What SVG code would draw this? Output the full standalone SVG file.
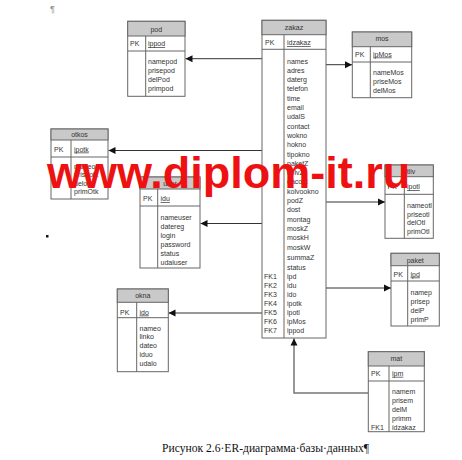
<svg xmlns="http://www.w3.org/2000/svg" width="462" height="460" viewBox="0 0 462 460">
<style>
.bx{fill:#fff;stroke:#666;stroke-width:1}
.hd{fill:#c9c9c9;stroke:#666;stroke-width:1}
.ln{stroke:#666;stroke-width:1;fill:none}
text{font-family:"Liberation Sans",Arial,sans-serif;font-size:7px;fill:#333}
.t{text-anchor:middle}
.u{text-decoration:underline}
.c{stroke:#333;stroke-width:1;fill:none}
.wm{font-family:"Liberation Sans",Arial,sans-serif;font-weight:bold;font-size:45px;fill:#ee1111}
.cap{font-family:"Liberation Serif","Times New Roman",serif;font-size:11.6px;fill:#111}
</style>
<defs>
<marker id="ah" markerWidth="8" markerHeight="8" refX="7" refY="4" orient="auto" markerUnits="userSpaceOnUse">
<path d="M0,0.5 L7,4 L0,7.5 Z" fill="#111"/>
</marker>
</defs>
<rect width="462" height="460" fill="#fff"/>
<text x="50" y="12" style="font-size:9px;fill:#888">¶</text>
<rect x="46" y="235" width="2.5" height="2.5" fill="#111"/>

<g id="connectors">
<path class="c" d="M262,58.7 H185.5" marker-end="url(#ah)"/>
<path class="c" d="M326,64.7 H352" marker-end="url(#ah)"/>
<path class="c" d="M262,150.5 H108.5" marker-end="url(#ah)"/>
<path class="c" d="M262,223.5 H200.5" marker-end="url(#ah)"/>
<path class="c" d="M326,202 H385" marker-end="url(#ah)"/>
<path class="c" d="M262,313 H168.5" marker-end="url(#ah)"/>
<path class="c" d="M326,288 H391" marker-end="url(#ah)"/>
<path d="M368,393 H294 V338.5" style="stroke:#777;stroke-width:1.5;fill:none" marker-end="url(#ah)"/>
</g>

<g id="pod">
<rect class="bx" x="127.7" y="21.3" width="57.3" height="75"/>
<rect class="hd" x="127.7" y="21.3" width="57.3" height="14.7"/>
<line class="ln" x1="127.7" y1="51" x2="185" y2="51"/>
<line class="ln" x1="145.7" y1="36" x2="145.7" y2="96.3"/>
<text class="t" x="156.3" y="31.5">pod</text>
<text x="130" y="46">PK</text>
<text class="u" x="148" y="46">ippod</text>
<text x="148" y="64">namepod</text>
<text x="148" y="73">prisepod</text>
<text x="148" y="82">delPod</text>
<text x="148" y="91">primpod</text>
</g>

<g id="zakaz">
<rect class="bx" x="262" y="20.3" width="64" height="317.7"/>
<rect class="hd" x="262" y="20.3" width="64" height="14.4"/>
<line class="ln" x1="262" y1="49.3" x2="326" y2="49.3"/>
<line class="ln" x1="284" y1="34.7" x2="284" y2="338"/>
<text class="t" x="294" y="30.2">zakaz</text>
<text x="265" y="45.2">PK</text>
<text class="u" x="287" y="45.2">idzakaz</text>
<text x="287" y="63.5">names</text>
<text x="287" y="72.8">adres</text>
<text x="287" y="82.1">daterg</text>
<text x="287" y="91.4">telefon</text>
<text x="287" y="100.7">time</text>
<text x="287" y="110">email</text>
<text x="287" y="119.3">udalS</text>
<text x="287" y="128.6">contact</text>
<text x="287" y="137.9">wokno</text>
<text x="287" y="147.2">hokno</text>
<text x="287" y="156.5">tipokno</text>
<text x="287" y="165.8">paketZ</text>
<text x="287" y="175.1">colvZ</text>
<text x="287" y="184.4">dacost</text>
<text x="287" y="193.7">kolvookno</text>
<text x="287" y="203">podZ</text>
<text x="287" y="212.3">dost</text>
<text x="287" y="221.6">montag</text>
<text x="287" y="230.9">moskZ</text>
<text x="287" y="240.2">moskH</text>
<text x="287" y="249.5">moskW</text>
<text x="287" y="259.8">summaZ</text>
<text x="287" y="269.8">status</text>
<text x="287" y="279">ipd</text>
<text x="287" y="288">idu</text>
<text x="287" y="297">ido</text>
<text x="287" y="306">ipotk</text>
<text x="287" y="314.5">ipotl</text>
<text x="287" y="323.5">ipMos</text>
<text x="287" y="332.5">ippod</text>
<text x="264" y="279">FK1</text>
<text x="264" y="288">FK2</text>
<text x="264" y="297">FK3</text>
<text x="264" y="306">FK4</text>
<text x="264" y="314.5">FK5</text>
<text x="264" y="323.5">FK6</text>
<text x="264" y="332.5">FK7</text>
</g>

<g id="mos">
<rect class="bx" x="352.3" y="32" width="59.4" height="65.7"/>
<rect class="hd" x="352.3" y="32" width="59.4" height="14.7"/>
<line class="ln" x1="352.3" y1="62" x2="411.7" y2="62"/>
<line class="ln" x1="370.3" y1="46.7" x2="370.3" y2="97.7"/>
<text class="t" x="382" y="41.2">mos</text>
<text x="355" y="56.5">PK</text>
<text class="u" x="373" y="56.5">ipMos</text>
<text x="373" y="75">nameMos</text>
<text x="373" y="84">priseMos</text>
<text x="373" y="93">delMos</text>
</g>

<g id="otkos">
<rect class="bx" x="51" y="129" width="57" height="70"/>
<rect class="hd" x="51" y="129" width="57" height="11"/>
<line class="ln" x1="51" y1="157" x2="108" y2="157"/>
<line class="ln" x1="71" y1="140" x2="71" y2="199"/>
<text class="t" x="79.5" y="137">otkos</text>
<text x="54" y="151.5">PK</text>
<text class="u" x="74" y="151.5">ipotk</text>
<text x="74" y="169">nameotk</text>
<text x="74" y="177">priseotk</text>
<text x="74" y="185.5">delotk</text>
<text x="74" y="193.5">primOtk</text>
</g>

<g id="user">
<rect class="bx" x="140" y="177" width="60" height="91"/>
<rect class="hd" x="140" y="177" width="60" height="12"/>
<line class="ln" x1="140" y1="206" x2="200" y2="206"/>
<line class="ln" x1="157.7" y1="189" x2="157.7" y2="268"/>
<text class="t" x="170" y="185.5">user</text>
<text x="143" y="201.2">PK</text>
<text class="u" x="160.5" y="201.2">idu</text>
<text x="160.5" y="219.5">nameuser</text>
<text x="160.5" y="228.5">datereg</text>
<text x="160.5" y="237.5">login</text>
<text x="160.5" y="246.5">password</text>
<text x="160.5" y="255.5">status</text>
<text x="160.5" y="264.5">udaluser</text>
</g>

<g id="okna">
<rect class="bx" x="117.3" y="289" width="51" height="82.7"/>
<rect class="hd" x="117.3" y="289" width="51" height="13.3"/>
<line class="ln" x1="117.3" y1="317.7" x2="168.3" y2="317.7"/>
<line class="ln" x1="136.7" y1="302.3" x2="136.7" y2="371.7"/>
<text class="t" x="142.8" y="298">okna</text>
<text x="120" y="314.5">PK</text>
<text class="u" x="139.5" y="314.5">ido</text>
<text x="139.5" y="330.8">nameo</text>
<text x="139.5" y="339.4">linko</text>
<text x="139.5" y="348.3">dateo</text>
<text x="139.5" y="356.7">iduo</text>
<text x="139.5" y="365.8">udalo</text>
</g>

<g id="otliv">
<rect class="bx" x="385" y="165" width="48.3" height="73.3"/>
<rect class="hd" x="385" y="165" width="48.3" height="11.7"/>
<line class="ln" x1="385" y1="194.3" x2="433.3" y2="194.3"/>
<line class="ln" x1="404.3" y1="176.7" x2="404.3" y2="238.3"/>
<text class="t" x="409" y="173.5">otliv</text>
<text x="387.5" y="189">PK</text>
<text class="u" x="407" y="189">ipotl</text>
<text x="407" y="207.5">nameotl</text>
<text x="407" y="216.5">priseotl</text>
<text x="407" y="225">delOtl</text>
<text x="407" y="234">primOtl</text>
</g>

<g id="paket">
<rect class="bx" x="391" y="253.3" width="48.3" height="72.7"/>
<rect class="hd" x="391" y="253.3" width="48.3" height="12.4"/>
<line class="ln" x1="391" y1="281" x2="439.3" y2="281"/>
<line class="ln" x1="407.7" y1="265.7" x2="407.7" y2="326"/>
<text class="t" x="415.2" y="262.5">paket</text>
<text x="393.5" y="276.5">PK</text>
<text class="u" x="410.5" y="276.5">ipd</text>
<text x="410.5" y="294.8">namep</text>
<text x="410.5" y="303.5">prisep</text>
<text x="410.5" y="312.5">delP</text>
<text x="410.5" y="321.5">primP</text>
</g>

<g id="mat">
<rect class="bx" x="368.3" y="351.7" width="56" height="80"/>
<rect class="hd" x="368.3" y="351.7" width="56" height="14.3"/>
<line class="ln" x1="368.3" y1="381" x2="424.3" y2="381"/>
<line class="ln" x1="389" y1="366" x2="389" y2="431.7"/>
<text class="t" x="396.3" y="361.2">mat</text>
<text x="371" y="375.8">PK</text>
<text class="u" x="392" y="375.8">ipm</text>
<text x="392" y="394.2">namem</text>
<text x="392" y="403.2">prisem</text>
<text x="392" y="412.2">delM</text>
<text x="392" y="421.2">primm</text>
<text x="392" y="430">idzakaz</text>
<text x="371" y="430">FK1</text>
</g>

<text class="wm" x="47" y="188">www.diplom-it.ru</text>
<text class="cap" x="162" y="452">Рисунок 2.6·ER-диаграмма·базы·данных¶</text>
</svg>
